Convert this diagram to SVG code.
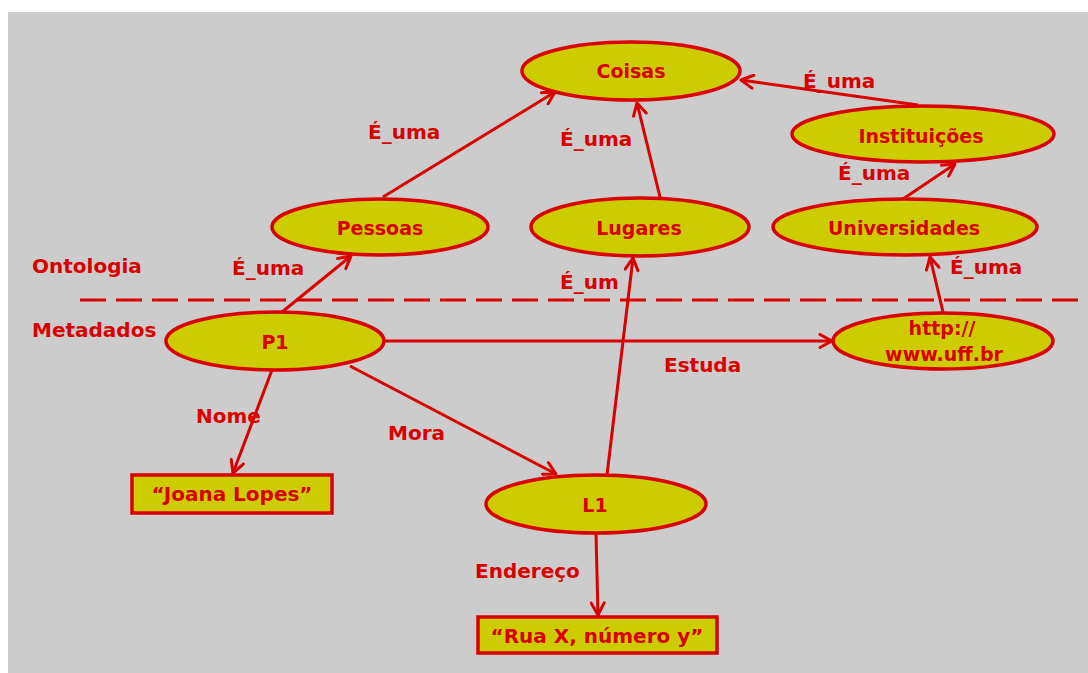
<svg xmlns="http://www.w3.org/2000/svg" width="1088" height="673" viewBox="0 0 1088 673">
  <style>
    .bg { fill: #cccccc; }
    .node { fill: #cccc00; stroke: #d80000; stroke-width: 3.5; }
    .txt { font-family: "DejaVu Sans", "Liberation Sans", sans-serif; font-weight: bold; font-size: 19px; fill: #d80000; }
    .lbl { font-size: 20px; }
    .mid { text-anchor: middle; }
    .edge { stroke: #d80000; stroke-width: 3; fill: none; marker-end: url(#arrow); }
    .divider { stroke: #d80000; stroke-width: 3; stroke-dasharray: 26 10; }
  </style>
  <defs>
    <marker id="arrow" markerUnits="userSpaceOnUse" viewBox="0 0 16 16" refX="14" refY="8" markerWidth="16" markerHeight="16" orient="auto">
      <path d="M2,1.5 L14,8 L2,14.5" fill="none" stroke="#d80000" stroke-width="3" stroke-linecap="round" stroke-linejoin="round"/>
    </marker>
  </defs>

  <rect class="bg" x="8" y="12" width="1080" height="661"/>

  <!-- layer separator -->
  <line class="divider" x1="80" y1="300" x2="1080" y2="300"/>
  <text class="txt lbl" x="32" y="273">Ontologia</text>
  <text class="txt lbl" x="32" y="337">Metadados</text>

  <!-- connectors -->
  <g id="connectors">
    <line class="edge" x1="383" y1="197" x2="555" y2="92"/>
    <line class="edge" x1="660" y1="197" x2="637" y2="103"/>
    <line class="edge" x1="918" y1="105" x2="741" y2="80"/>
    <line class="edge" x1="903" y1="199" x2="955" y2="164"/>
    <line class="edge" x1="282" y1="312" x2="351" y2="256"/>
    <line class="edge" x1="607" y1="475" x2="633" y2="258"/>
    <line class="edge" x1="943" y1="312" x2="930" y2="257"/>
    <line class="edge" x1="385" y1="341" x2="832" y2="341"/>
    <line class="edge" x1="350" y1="366" x2="556" y2="474"/>
    <line class="edge" x1="272" y1="370" x2="233" y2="473"/>
    <line class="edge" x1="596" y1="533" x2="598" y2="615"/>

    <text class="txt lbl" x="368" y="139">É_uma</text>
    <text class="txt lbl" x="560" y="146">É_uma</text>
    <text class="txt lbl" x="803" y="88">É_uma</text>
    <text class="txt lbl" x="838" y="180">É_uma</text>
    <text class="txt lbl" x="232" y="275">É_uma</text>
    <text class="txt lbl" x="560" y="289">É_um</text>
    <text class="txt lbl" x="950" y="274">É_uma</text>
    <text class="txt lbl" x="664" y="372">Estuda</text>
    <text class="txt lbl" x="196" y="423">Nome</text>
    <text class="txt lbl" x="388" y="440">Mora</text>
    <text class="txt lbl" x="475" y="578">Endereço</text>
  </g>

  <!-- ontology nodes -->
  <g id="coisas">
    <ellipse class="node" cx="631" cy="71" rx="109" ry="29"/>
    <text class="txt mid" x="631" y="78">Coisas</text>
  </g>
  <g id="pessoas">
    <ellipse class="node" cx="380" cy="227" rx="108" ry="28"/>
    <text class="txt mid" x="380" y="235">Pessoas</text>
  </g>
  <g id="lugares">
    <ellipse class="node" cx="640" cy="227" rx="109" ry="29"/>
    <text class="txt mid" x="639" y="235">Lugares</text>
  </g>
  <g id="instituicoes">
    <ellipse class="node" cx="923" cy="134" rx="131" ry="28"/>
    <text class="txt mid" x="921" y="143">Instituições</text>
  </g>
  <g id="universidades">
    <ellipse class="node" cx="905" cy="227" rx="132" ry="28"/>
    <text class="txt mid" x="904" y="235">Universidades</text>
  </g>

  <!-- metadata nodes -->
  <g id="p1">
    <ellipse class="node" cx="275" cy="341" rx="109" ry="29"/>
    <text class="txt mid" x="275" y="349">P1</text>
  </g>
  <g id="uff">
    <ellipse class="node" cx="943" cy="341" rx="110" ry="28"/>
    <text class="txt mid" x="942" y="335">http://</text>
    <text class="txt mid" x="944" y="361">www.uff.br</text>
  </g>
  <g id="l1">
    <ellipse class="node" cx="596" cy="504" rx="110" ry="29"/>
    <text class="txt mid" x="595" y="512">L1</text>
  </g>
  <g id="nome-valor">
    <rect class="node" x="132" y="475" width="200" height="38"/>
    <text class="txt lbl mid" x="232" y="501">“Joana Lopes”</text>
  </g>
  <g id="endereco-valor">
    <rect class="node" x="478" y="617" width="239" height="36"/>
    <text class="txt lbl mid" x="597" y="643">“Rua X, número y”</text>
  </g>
</svg>
